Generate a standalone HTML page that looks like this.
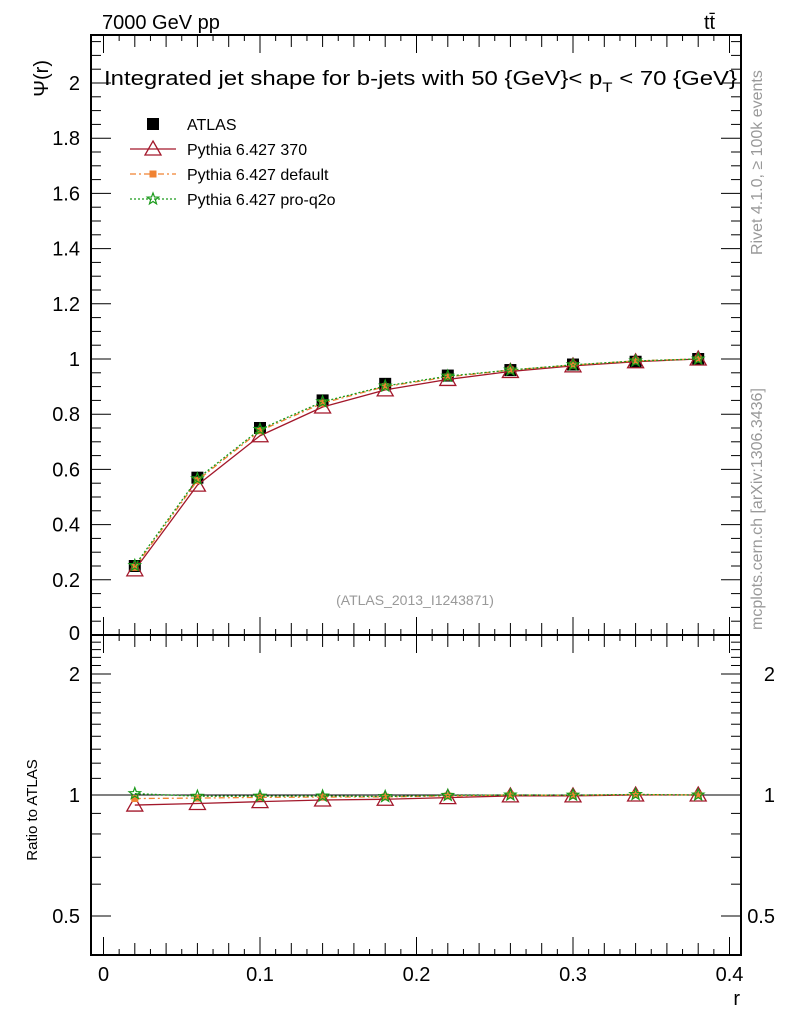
<!DOCTYPE html>
<html><head><meta charset="utf-8"><style>
body{margin:0;background:#fff;}
svg{display:block;font-family:"Liberation Sans",Arial,sans-serif;}
</style></head><body>
<svg id="c" width="786" height="1024" viewBox="0 0 786 1024">
<text x="102" y="29" font-size="20">7000 GeV pp</text>
<text x="704" y="29" font-size="20">tt̄</text>
<text x="104" y="85" font-size="20" textLength="633" lengthAdjust="spacingAndGlyphs">Integrated jet shape for b-jets with 50 {GeV}&lt; p<tspan font-size="14" dy="7">T</tspan><tspan dy="-7"> &lt; 70 {GeV}</tspan></text>
<text transform="translate(762,255) rotate(-90)" font-size="16" fill="#999">Rivet 4.1.0, ≥ 100k events</text>
<text transform="translate(762,630) rotate(-90)" font-size="16" fill="#999">mcplots.cern.ch [arXiv:1306.3436]</text>
<text x="415" y="605" font-size="14" fill="#999" text-anchor="middle">(ATLAS_2013_I1243871)</text>
<text transform="translate(48,60) rotate(-90)" font-size="20" text-anchor="end">Ψ(r)</text>
<text transform="translate(37,810) rotate(-90)" font-size="15" text-anchor="middle">Ratio to ATLAS</text>
<text x="740" y="1005" font-size="20" text-anchor="end">r</text>
<g id="legend"></g>
<g id="g"></g>
</svg>
<script>
const rVals=[0.02,0.06,0.10,0.14,0.18,0.22,0.26,0.30,0.34,0.38];
const atlas=[0.25,0.57,0.75,0.85,0.91,0.94,0.96,0.98,0.99,1.0];
const py370=[0.236,0.543,0.722,0.826,0.888,0.926,0.955,0.975,0.99,1.0];
const pyDefault=[0.245,0.56,0.74,0.84,0.9,0.935,0.96,0.978,0.993,1.0];
const pyProq2o=[0.252,0.566,0.745,0.845,0.902,0.938,0.96,0.979,0.993,1.0];
const xTicks=[0,0.1,0.2,0.3,0.4];
const yTicks=[0.2,0.4,0.6,0.8,1,1.2,1.4,1.6,1.8,2];
const rTicks=[0.5,1,2];

const NS="http://www.w3.org/2000/svg";
const L=91,R=741,T=35,M=635,B=955;
const X=v=>103.5+v*1565;
const Y=v=>635-v*276;
const YR=v=>795-Math.log2(v)*121;
const g=document.getElementById('g');
function el(t,a,p){const e=document.createElementNS(NS,t);for(const k in a)e.setAttribute(k,a[k]);(p||g).appendChild(e);return e;}
function line(x1,y1,x2,y2,w){return el('line',{x1,y1,x2,y2,stroke:'#000','stroke-width':w||1});}

let f=el('rect',{x:L,y:T,width:R-L,height:M-T,fill:'none',stroke:'#000','stroke-width':2});

f=el('rect',{x:L,y:M,width:R-L,height:B-M,fill:'none',stroke:'#000','stroke-width':2});


for(let i=0;i<=40;i++){const v=i/100,x=X(v);if(x>R)break;
 const len=i%10==0?18:(i%2==0?12:6);
 [M,B].forEach(y=>line(x,y,x,y-len));[T,M].forEach(y=>line(x,y,x,y+len));}
xTicks.forEach(v=>{const t=el('text',{x:X(v),y:981,'font-size':20,'text-anchor':'middle'});t.textContent=v;
 });
for(let i=0;i<=43;i++){const v=i*0.05,y=Y(v);if(y<T)break;const len=i%4==0?20:10;
 line(L,y,L+len,y);line(R,y,R-len,y);}
yTicks.forEach(v=>{const t=el('text',{x:80,y:Y(v)+7,'font-size':20,'text-anchor':'end'});t.textContent=v;
 });
let t0=el('text',{x:80,y:640,'font-size':20,'text-anchor':'end'});t0.textContent='0';

[0.4,0.5,0.6,0.7,0.8,0.9,1,1.1,1.2,1.3,1.4,1.5,1.6,1.7,1.8,1.9,2,2.1,2.2,2.3,2.4,2.5].forEach(v=>{
 const y=YR(v);if(y<M||y>B)return;const len=(v==0.5||v==1||v==2)?20:10;line(L,y,L+len,y);line(R,y,R-len,y);});
rTicks.forEach(v=>{[80,775].forEach((x,k)=>{const t=el('text',{x,y:YR(v)+7,'font-size':20,'text-anchor':'end'});t.textContent=v;
 });});
line(L,YR(1),R,YR(1),1);

function marker(type,x,y,c,p){
 if(type=='sq')return el('rect',{x:x-6,y:y-6,width:12,height:12,fill:'#000'},p);
 if(type=='tri')return el('path',{d:`M${x},${y-8}L${x+8},${y+6}L${x-8},${y+6}Z`,fill:'none',stroke:c,'stroke-width':1.3},p);
 if(type=='dsq')return el('rect',{x:x-3.5,y:y-3.5,width:7,height:7,fill:c},p);
 let d='';for(let i=0;i<10;i++){const a=-Math.PI/2+i*Math.PI/5,r=i%2?2.5:6;d+=(i?'L':'M')+(x+r*Math.cos(a))+','+(y+r*Math.sin(a));}
 return el('path',{d:d+'Z',fill:'none',stroke:c,'stroke-width':1.2},p);
}
const series=[
 {name:'atlas',vals:atlas,c:'#000',m:'sq',dash:null},
 {name:'pythia-370',vals:py370,c:'#a3182b',m:'tri',dash:''},
 {name:'pythia-default',vals:pyDefault,c:'#f08232',m:'dsq',dash:'6,3,2,3'},
 {name:'pythia-pro-q2o',vals:pyProq2o,c:'#1a9a1a',m:'star',dash:'2,2'}];
series.forEach(s=>{
 const grp=el('g',{});
 if(s.dash!==null){
  const pts=rVals.map((r,i)=>X(r)+','+Y(s.vals[i])).join(' ');
  el('polyline',{points:pts,fill:'none',stroke:s.c,'stroke-width':1.3,'stroke-dasharray':s.dash},grp);
  const rp=rVals.map((r,i)=>X(r)+','+YR(s.vals[i]/atlas[i])).join(' ');
  el('polyline',{points:rp,fill:'none',stroke:s.c,'stroke-width':1.3,'stroke-dasharray':s.dash},grp);
 }
 rVals.forEach((r,i)=>{const m=marker(s.m,X(r),Y(s.vals[i]),s.c,grp);
  
  if(s.dash!==null){const m2=marker(s.m,X(r),YR(s.vals[i]/atlas[i]),s.c,grp);
  }});
});
const lg=document.getElementById('legend');
const labels=['ATLAS','Pythia 6.427 370','Pythia 6.427 default','Pythia 6.427 pro-q2o'];
series.forEach((s,i)=>{const y=124+i*25;
 const e=el('g',{},lg);
 if(s.dash!==null)el('line',{x1:130,y1:y,x2:176,y2:y,stroke:s.c,'stroke-width':1.3,'stroke-dasharray':s.dash},e);
 marker(s.m,153,y,s.c,e);
 const t=el('text',{x:187,y:y+6,'font-size':16},e);t.textContent=labels[i];});
</script>
</body></html>
